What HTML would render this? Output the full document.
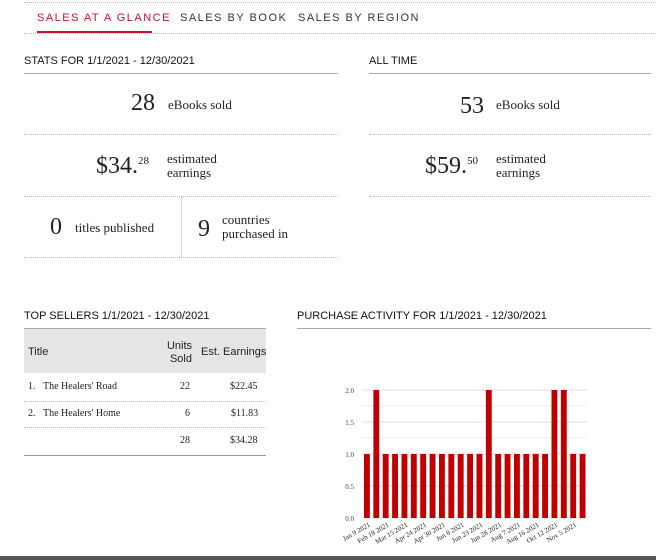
<!DOCTYPE html>
<html><head><meta charset="utf-8"><style>
body{margin:0;width:656px;height:560px;background:#fff;position:relative;overflow:hidden;font-family:"Liberation Sans",sans-serif;color:#222}
.abs{position:absolute}
.tab{font-size:11px;letter-spacing:1.5px;top:12px}
.hd{font-size:11px;font-weight:normal;color:#111}
.serif{font-family:"Liberation Serif",serif}
.dot{border-top:1px dotted #bbb;height:0}
</style></head><body>
<div class="abs dot" style="left:24px;top:2px;width:632px"></div>
<div class="abs tab" style="left:37px;color:#c8102e">SALES AT A GLANCE</div>
<div class="abs" style="left:37px;top:31px;width:115px;height:2px;background:#c8102e"></div>
<div class="abs tab" style="left:180px;color:#333">SALES BY BOOK</div>
<div class="abs tab" style="left:298px;color:#333">SALES BY REGION</div>
<div class="abs dot" style="left:24px;top:33px;width:632px"></div>

<div class="abs hd" style="left:24px;top:55px">STATS FOR 1/1/2021 - 12/30/2021</div>
<div class="abs" style="left:24px;top:73px;width:314px;border-top:1px solid #aaa"></div>
<div class="abs hd" style="left:369px;top:55px">ALL TIME</div>
<div class="abs" style="left:369px;top:73px;width:282px;border-top:1px solid #aaa"></div>

<div class="abs serif" style="left:131px;top:90px;font-size:24px">28</div>
<div class="abs serif" style="left:168px;top:97px;font-size:13px">eBooks sold</div>
<div class="abs dot" style="left:24px;top:134px;width:314px"></div>
<div class="abs serif" style="left:96px;top:153px;font-size:24px">$34.<sup style="font-size:11px">28</sup></div>
<div class="abs serif" style="left:167px;top:152px;font-size:13px;line-height:14px">estimated<br>earnings</div>
<div class="abs dot" style="left:24px;top:196px;width:314px"></div>
<div class="abs" style="left:181px;top:197px;height:60px;border-left:1px dotted #bbb"></div>
<div class="abs serif" style="left:50px;top:214px;font-size:24px">0</div>
<div class="abs serif" style="left:75px;top:220px;font-size:13px">titles published</div>
<div class="abs serif" style="left:198px;top:216px;font-size:24px">9</div>
<div class="abs serif" style="left:222px;top:213px;font-size:13px;line-height:14px">countries<br>purchased in</div>
<div class="abs dot" style="left:24px;top:257px;width:314px"></div>

<div class="abs serif" style="left:460px;top:93px;font-size:24px">53</div>
<div class="abs serif" style="left:496px;top:97px;font-size:13px">eBooks sold</div>
<div class="abs dot" style="left:369px;top:134px;width:282px"></div>
<div class="abs serif" style="left:425px;top:153px;font-size:24px">$59.<sup style="font-size:11px">50</sup></div>
<div class="abs serif" style="left:496px;top:152px;font-size:13px;line-height:14px">estimated<br>earnings</div>
<div class="abs dot" style="left:369px;top:196px;width:282px"></div>

<div class="abs hd" style="left:24px;top:310px">TOP SELLERS 1/1/2021 - 12/30/2021</div>
<div class="abs" style="left:24px;top:328px;width:242px;border-top:1px solid #aaa"></div>
<div class="abs" style="left:24px;top:329px;width:242px;height:44px;background:#e5e5e5"></div>
<div class="abs" style="left:28px;top:346px;font-size:11px">Title</div>
<div class="abs" style="left:160px;top:340px;font-size:11px;text-align:right;width:32px;line-height:13px">Units Sold</div>
<div class="abs" style="left:201px;top:346px;font-size:11px">Est. Earnings</div>
<div class="abs serif" style="left:28px;top:381px;font-size:10px">1.&nbsp;&nbsp;&nbsp;The Healers' Road</div>
<div class="abs serif" style="left:180px;top:381px;font-size:10px">22</div>
<div class="abs serif" style="left:230px;top:381px;font-size:10px">$22.45</div>
<div class="abs dot" style="left:24px;top:401px;width:242px"></div>
<div class="abs serif" style="left:28px;top:408px;font-size:10px">2.&nbsp;&nbsp;&nbsp;The Healers' Home</div>
<div class="abs serif" style="left:185px;top:408px;font-size:10px">6</div>
<div class="abs serif" style="left:231px;top:408px;font-size:10px">$11.83</div>
<div class="abs dot" style="left:24px;top:427px;width:242px"></div>
<div class="abs serif" style="left:180px;top:435px;font-size:10px">28</div>
<div class="abs serif" style="left:230px;top:435px;font-size:10px">$34.28</div>
<div class="abs" style="left:24px;top:455px;width:242px;border-top:1px solid #999"></div>

<div class="abs hd" style="left:297px;top:310px">PURCHASE ACTIVITY FOR 1/1/2021 - 12/30/2021</div>
<div class="abs" style="left:297px;top:328px;width:354px;border-top:1px solid #aaa"></div>

<svg class="abs" style="left:0;top:0" width="656" height="560" id="chart"></svg>
<div class="abs" style="left:0;top:556px;width:656px;height:4px;background:#555"></div>
<script>
const values=[1,2,1,1,1,1,1,1,1,1,1,1,1,2,1,1,1,1,1,1,2,2,1,1];
const tickValues=[0,0.5,1,1.5,2];
const tickLabels=["0.0","0.5","1.0","1.5","2.0"];
const dateLabels=["Jan 9 2021","Feb 18 2021","Mar 15 2021","Apr 24 2021","Apr 30 2021","Jun 8 2021","Jun 23 2021","Jun 28 2021","Aug 7 2021","Aug 16 2021","Oct 12 2021","Nov 5 2021"];
const svg=document.getElementById('chart');
const NS='http://www.w3.org/2000/svg';
const x0=362,x1=587,y0=518,y1=390,maxV=2;
const step=(x1-x0)/values.length;
const yS=v=>y0-(v/maxV)*(y0-y1);
const xS=i=>x0+i*step;
for(let k=0;k<=8;k++){const v=k*0.25;const l=document.createElementNS(NS,'line');


l.setAttribute('x1',x0);l.setAttribute('x2',x1);l.setAttribute('y1',yS(v));l.setAttribute('y2',yS(v));l.setAttribute('stroke',k%2?'#eee':'#ddd');svg.appendChild(l);}
tickValues.forEach((v,i)=>{const t=document.createElementNS(NS,'text');


t.setAttribute('x',x0-8);t.setAttribute('y',yS(v)+3);t.setAttribute('text-anchor','end');t.setAttribute('font-size','7');t.setAttribute('font-family','Liberation Serif,serif');t.setAttribute('fill','#444');t.textContent=tickLabels[i];svg.appendChild(t);});
values.forEach((v,i)=>{const r=document.createElementNS(NS,'rect');


r.setAttribute('x',xS(i)+2);r.setAttribute('width',step-3.5);r.setAttribute('y',yS(v));r.setAttribute('height',y0-yS(v));r.setAttribute('fill','#c00000');svg.appendChild(r);});
dateLabels.forEach((d,j)=>{const cx=xS(j*2)+step/2+4;const t=document.createElementNS(NS,'text');


t.setAttribute('x',cx);t.setAttribute('y',y0+8);t.setAttribute('text-anchor','end');t.setAttribute('font-size','7');t.setAttribute('font-family','Liberation Serif,serif');t.setAttribute('fill','#222');t.setAttribute('transform','rotate(-30 '+cx+' '+(y0+8)+')');t.textContent=d;svg.appendChild(t);});
</script>
</body></html>
